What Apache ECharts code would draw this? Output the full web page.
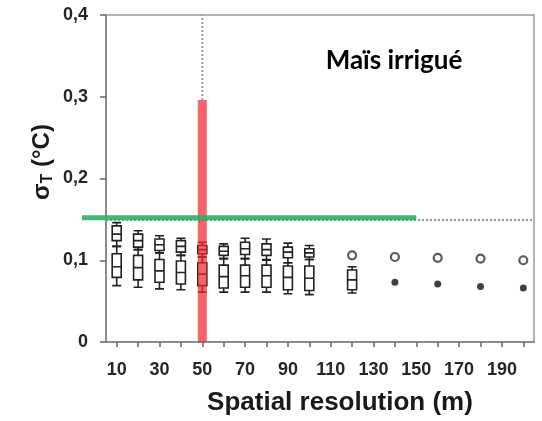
<!DOCTYPE html>
<html>
<head>
<meta charset="utf-8">
<script src="https://cdn.jsdelivr.net/npm/echarts@6/dist/echarts.min.js"></script>
<style>
html,body{margin:0;padding:0;background:#fff;}
#c{width:542px;height:421px;}
</style>
</head>
<body>
<div id="c"></div>
<script>
// Categories (spatial resolution, m)
const categories = ['10','20','30','40','50','60','70','80','90','100','110','120','130','140','150','160','170','180','190','200'];
const yTicks = [0, 0.1, 0.2, 0.3, 0.4];

// Upper series (open circles): [min, Q1, median, Q3, max]
const upperBoxCats = ['10','20','30','40','50','60','70','80','90','100'];
const upperBox = [
  [0.117, 0.124, 0.132, 0.142, 0.146],
  [0.113, 0.116, 0.124, 0.132, 0.136],
  [0.109, 0.112, 0.119, 0.126, 0.130],
  [0.106, 0.110, 0.117, 0.124, 0.127],
  [0.104, 0.108, 0.113, 0.118, 0.122],
  [0.102, 0.106, 0.111, 0.117, 0.120],
  [0.102, 0.107, 0.114, 0.122, 0.127],
  [0.101, 0.106, 0.113, 0.120, 0.126],
  [0.097, 0.103, 0.110, 0.116, 0.121],
  [0.101, 0.104, 0.109, 0.114, 0.118]
];
const upperPointCats = ['120','140','160','180','200'];
const upperPoints = [0.106, 0.104, 0.103, 0.102, 0.100];

// Lower series (filled dots): [min, Q1, median, Q3, max]
const lowerBoxCats = ['10','20','30','40','50','60','70','80','90','100','120'];
const lowerBox = [
  [0.069, 0.079, 0.092, 0.108, 0.117],
  [0.067, 0.076, 0.091, 0.106, 0.113],
  [0.065, 0.073, 0.087, 0.101, 0.109],
  [0.064, 0.071, 0.085, 0.099, 0.106],
  [0.061, 0.069, 0.083, 0.097, 0.104],
  [0.061, 0.066, 0.080, 0.094, 0.102],
  [0.061, 0.067, 0.081, 0.094, 0.102],
  [0.061, 0.067, 0.081, 0.094, 0.100],
  [0.059, 0.064, 0.079, 0.093, 0.097],
  [0.058, 0.063, 0.078, 0.093, 0.101],
  [0.060, 0.064, 0.076, 0.088, 0.092]
];
const lowerPointCats = ['140','160','180','200'];
const lowerPoints = [0.073, 0.071, 0.068, 0.066];

// Annotations
const highlightCat = '50';
const highlightTop = 0.296;
const thresholdValue = 0.15;
const thresholdEndCat = '150';

const chart = echarts.init(document.getElementById('c'), null, {renderer: 'canvas'});

const labelFont = {color: '#262626', fontSize: 18, fontWeight: 'bold', fontFamily: 'Liberation Sans, Arial, sans-serif'};

const xAxisBase = {
  type: 'category',
  data: categories,
  boundaryGap: true,
  axisLine: {lineStyle: {color: '#8c8c8c', width: 2}},
  axisTick: {show: true, interval: 0, alignWithLabel: true, length: 5, lineStyle: {color: '#666', width: 1.5}},
  axisLabel: Object.assign({interval: 1, margin: 19}, labelFont),
  splitLine: {show: false}
};

const boxStyle = {color: 'rgba(255,255,255,0)', borderColor: '#222', borderWidth: 1.6};

const option = {
  animation: false,
  grid: {left: 106, right: 8, top: 15, bottom: 79, show: true, borderColor: '#9a9a9a', borderWidth: 1.5, backgroundColor: 'transparent'},
  xAxis: [
    xAxisBase,
    Object.assign({}, xAxisBase, {show: false})
  ],
  yAxis: {
    type: 'value',
    min: 0, max: 0.4, interval: 0.1,
    axisLine: {show: true, lineStyle: {color: '#8c8c8c', width: 2}},
    axisTick: {show: true, length: 6, lineStyle: {color: '#666', width: 1.5}},
    axisLabel: Object.assign({
      margin: 18,
      formatter: function (v) { return v === 0 ? '0' : v.toFixed(1).replace('.', ','); }
    }, labelFont),
    splitLine: {show: false}
  },
  series: [
    {
      type: 'line', xAxisIndex: 0, symbol: 'none', silent: true, z: 1,
      data: [[highlightCat, highlightTop], [highlightCat, yTicks[yTicks.length - 1]]],
      lineStyle: {color: '#999', width: 2, type: 'dotted'},
      markLine: {
        symbol: 'none', silent: true, label: {show: false},
        lineStyle: {color: '#999', width: 2, type: 'dotted'},
        data: [{yAxis: thresholdValue}]
      }
    },
    {
      type: 'boxplot', xAxisIndex: 0, z: 3,
      boxWidth: [9, 9],
      encode: {x: 0, y: [1, 2, 3, 4, 5]},
      data: upperBoxCats.map((c, i) => [c].concat(upperBox[i])),
      itemStyle: boxStyle
    },
    {
      type: 'boxplot', xAxisIndex: 1, z: 3,
      boxWidth: [9, 9],
      encode: {x: 0, y: [1, 2, 3, 4, 5]},
      data: lowerBoxCats.map((c, i) => [c].concat(lowerBox[i])),
      itemStyle: boxStyle
    },
    {
      type: 'scatter', xAxisIndex: 0, z: 4,
      symbol: 'circle', symbolSize: 8,
      data: upperPointCats.map((c, i) => [c, upperPoints[i]]),
      itemStyle: {color: '#fff', borderColor: '#333', borderWidth: 2.2}
    },
    {
      type: 'scatter', xAxisIndex: 0, z: 4,
      symbol: 'circle', symbolSize: 7,
      data: lowerPointCats.map((c, i) => [c, lowerPoints[i]]),
      itemStyle: {color: '#111'}
    },
    {
      type: 'bar', xAxisIndex: 0, z: 5,
      barWidth: 9,
      data: categories.map(c => c === highlightCat ? highlightTop : '-'),
      itemStyle: {color: 'rgba(240,40,48,0.72)'}
    }
  ]
};

chart.setOption(option);

const yPix = chart.convertToPixel({yAxisIndex: 0}, thresholdValue + 0.002);
const xEnd = chart.convertToPixel({xAxisIndex: 0}, thresholdEndCat);

chart.setOption({
  graphic: [
    {
      type: 'line', z: 10,
      shape: {x1: 82, y1: yPix, x2: xEnd, y2: yPix},
      style: {stroke: 'rgba(40,178,100,0.9)', lineWidth: 5}
    },
    {
      type: 'text', z: 10,
      x: 394, y: 61,
      style: {text: 'Maïs irrigué', font: 'bold 26px Lato, "Noto Sans", sans-serif', fill: '#000', align: 'center', verticalAlign: 'middle'}
    },
    {
      type: 'text', z: 10,
      x: 340, y: 403,
      style: {text: 'Spatial resolution (m)', font: 'bold 26px "Liberation Sans", Arial, sans-serif', fill: '#1a1a1a', align: 'center', verticalAlign: 'middle'}
    },
    {
      type: 'text', z: 10,
      x: 42, y: 162, rotation: Math.PI / 2,
      style: {
        text: '{a|σ}{s|T}{a| (°C)}',
        align: 'center', verticalAlign: 'middle',
        rich: {
          a: {font: 'bold 24px "Liberation Sans", Arial, sans-serif', fill: '#1a1a1a'},
          s: {font: 'bold 16px "Liberation Sans", Arial, sans-serif', fill: '#1a1a1a', padding: [12, 0, 0, 0]}
        }
      }
    }
  ]
});
</script>
</body>
</html>
